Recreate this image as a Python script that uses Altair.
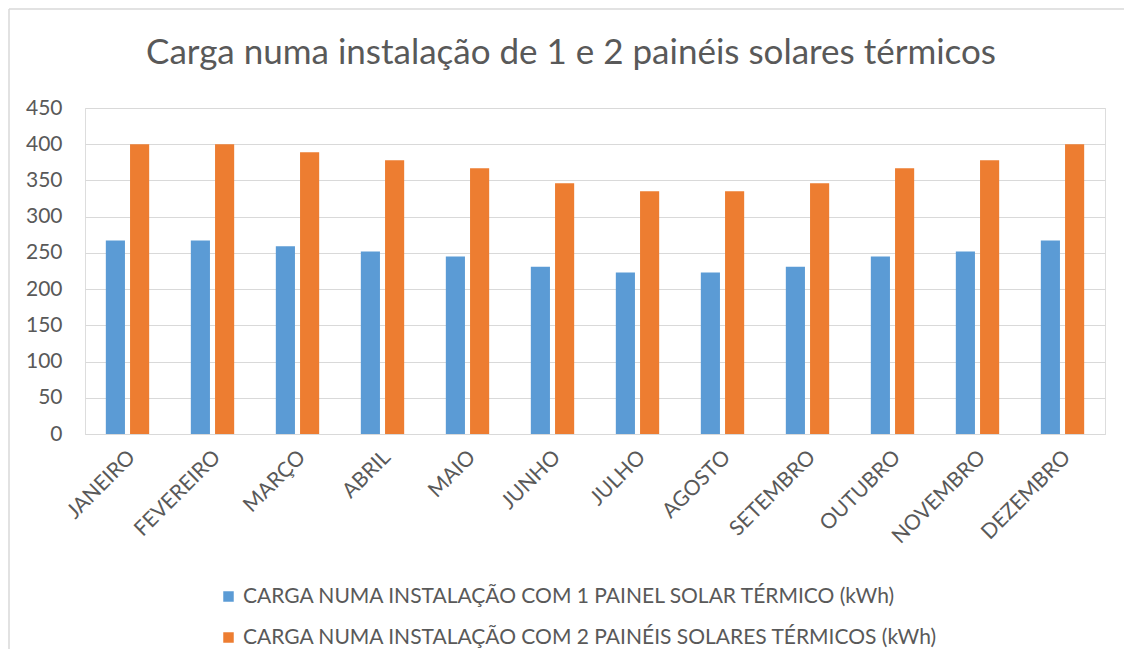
import altair as alt
import pandas as pd

meses = ["JANEIRO", "FEVEREIRO", "MARÇO", "ABRIL", "MAIO", "JUNHO",
         "JULHO", "AGOSTO", "SETEMBRO", "OUTUBRO", "NOVEMBRO", "DEZEMBRO"]
serie_1 = [267, 267, 259, 252, 245, 231, 223, 223, 231, 245, 252, 267]
serie_2 = [400, 400, 389, 378, 367, 346, 335, 335, 346, 367, 378, 400]
nome_1 = "CARGA NUMA INSTALAÇÃO COM 1 PAINEL SOLAR TÉRMICO (kWh)"
nome_2 = "CARGA NUMA INSTALAÇÃO COM 2 PAINÉIS SOLARES TÉRMICOS (kWh)"
titulo = "Carga numa instalação de 1 e 2 painéis solares térmicos"
y_ticks = [0, 50, 100, 150, 200, 250, 300, 350, 400, 450]

rows = []
for m, a, b in zip(meses, serie_1, serie_2):
    rows.append({"mes": m, "serie": nome_1, "valor": a})
    rows.append({"mes": m, "serie": nome_2, "valor": b})
df = pd.DataFrame(rows)

FONT = "Lato"
TXT = "#595959"
GRID = "#d9d9d9"

bars = alt.Chart(df).mark_bar().encode(
    x=alt.X("mes:N", sort=meses, title=None,
            scale=alt.Scale(paddingInner=0.49, paddingOuter=0.245),
            axis=alt.Axis(labelAngle=-45, labelFontSize=21, labelFont=FONT,
                          labelColor=TXT, ticks=False, domainColor=GRID,
                          domainWidth=1, labelPadding=12, labelOffset=-3,
                          grid=False)),
    xOffset=alt.XOffset("serie:N", sort=[nome_1, nome_2],
                        scale=alt.Scale(paddingInner=0.21, paddingOuter=0)),
    y=alt.Y("valor:Q", title=None,
            scale=alt.Scale(domain=[0, 450], nice=False),
            axis=alt.Axis(values=y_ticks, labelFontSize=21, labelFont=FONT,
                          labelColor=TXT, ticks=False, domain=False,
                          gridColor=GRID, gridWidth=1, labelPadding=23)),
    color=alt.Color("serie:N", sort=[nome_1, nome_2],
                    scale=alt.Scale(domain=[nome_1, nome_2],
                                    range=["#5b9bd5", "#ed7d31"]),
                    legend=alt.Legend(title=None, orient="none",
                                      legendX=133, legendY=478,
                                      direction="vertical",
                                      symbolType="square", symbolSize=110,
                                      symbolStrokeWidth=0,
                                      labelFont=FONT, labelFontSize=21,
                                      labelColor=TXT, labelLimit=0,
                                      labelOffset=4, rowPadding=19)),
)

title_df = pd.DataFrame({"t": [titulo]})
title = alt.Chart(title_df).mark_text(
    font=FONT, fontSize=35, color=TXT, align="center", baseline="alphabetic"
).encode(text="t:N", x=alt.value(486), y=alt.value(-44))

frame = alt.Data(values=[{}])
top_line = alt.Chart(frame).mark_rule(color=GRID, strokeWidth=1.5, clip=False).encode(
    x=alt.value(-76), x2=alt.value(1100), y=alt.value(-99))
left_line = alt.Chart(frame).mark_rule(color=GRID, strokeWidth=1.5, clip=False).encode(
    x=alt.value(-76), y=alt.value(-99), y2=alt.value(620))

chart = alt.layer(bars, title, top_line, left_line).properties(
    width=1020, height=326,
    autosize=alt.AutoSizeParams(type="none"),
    padding={"left": 77, "top": 100, "right": 19, "bottom": 215},
).configure_view(stroke=None).configure(background="white")

chart.save("out.html", embed_options={"renderer": "svg", "actions": False})
